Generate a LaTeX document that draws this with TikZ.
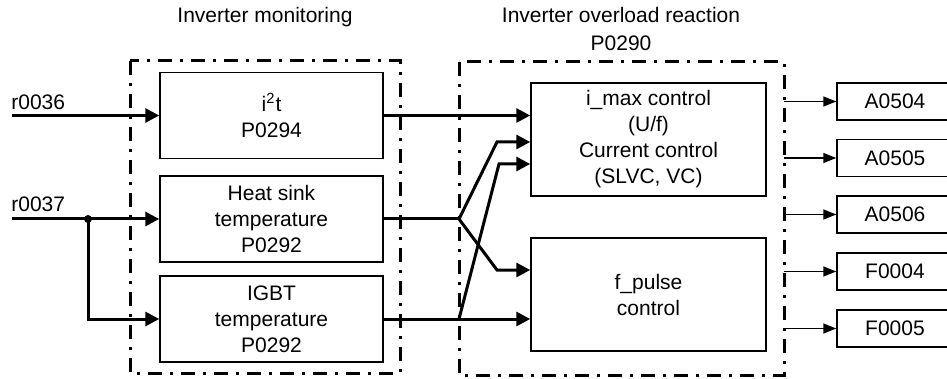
\documentclass[tikz,border=0pt]{standalone}
\usepackage{fontspec}
\setmainfont{Liberation Sans}
\usetikzlibrary{arrows.meta}

\begin{document}
\begin{tikzpicture}[x=0.5pt, y=-0.5pt,
    font={\fontsize{10.5}{13}\selectfont},
    block/.style={draw, line width=0.75pt, minimum width=111.5pt, minimum height=43pt,
      align=center, inner sep=0pt},
    ctrl/.style={block, minimum width=117.5pt, minimum height=56.5pt},
    alarm/.style={block, minimum width=58pt, minimum height=18.5pt},
    frame/.style={line width=1.5pt, dash pattern=on 7pt off 4pt on 1.5pt off 4pt},
    sig/.style={line width=1.5pt, -{Triangle[length=7pt,width=7pt]}},
    wire/.style={line width=1.5pt},
    outarr/.style={line width=0.75pt, -{Triangle[length=6.5pt,width=5pt]}}]

  \useasboundingbox (0,0) rectangle (947,379);

  %% titles
  \node (tmon) at (265,17) {Inverter monitoring};
  \node[align=center] (tovl) at (621,29) {Inverter overload reaction\\[1pt]P0290};

  %% frames
  \draw[frame] (130,61) rectangle (400,373);
  \draw[frame] (459,62) rectangle (784,375);

  %% monitoring blocks
  \node[block] (i2t)  at (271.5,115.5) {i\textsuperscript{2}t\\P0294};
  \node[block] (heat) at (271.5,219)   {Heat sink\\temperature\\P0292};
  \node[block] (igbt) at (271.5,319)   {IGBT\\temperature\\P0292};

  %% reaction blocks
  \node[ctrl] (imax)   at (648.5,139.5) {i\_max control\\(U/f)\\Current control\\(SLVC, VC)};
  \node[ctrl] (fpulse) at (648.5,294.5) {f\_pulse\\control};

  %% alarms and faults
  \node[alarm] (a0504) at (895,101.5) {A0504};
  \node[alarm] (a0505) at (895,158)   {A0505};
  \node[alarm] (a0506) at (895,214.5) {A0506};
  \node[alarm] (f0004) at (895,271.5) {F0004};
  \node[alarm] (f0005) at (895,328.5) {F0005};

  %% inputs
  \coordinate (r36) at (12,115.5);
  \coordinate (r37) at (12,219);
  \coordinate (split) at (88,219);
  \node[anchor=base west, inner sep=0pt] (l36) at (11,110) {r0036};
  \node[anchor=base west, inner sep=0pt] (l37) at (11,212) {r0037};

  \draw[sig] (r36) -- (i2t.west);
  \draw[sig] (r37) -- (heat.west);
  \draw[sig] (split) |- (igbt.west);
  \fill (split) circle (4);

  %% monitoring -> reaction
  \coordinate (hsfork) at (459,219);
  \coordinate (igfork) at (459,319);
  \coordinate (k1) at (497,142);
  \coordinate (k2) at (497,270);
  \coordinate (k3) at (499,164);

  \draw[sig] (i2t.east) -- (imax.west |- i2t.east);
  \draw[wire] (heat.east) -- (hsfork);
  \draw[sig] (hsfork) -- (k1) -- (k1 -| imax.west);
  \draw[sig] (hsfork) -- (k2) -- (k2 -| fpulse.west);
  \draw[sig] (igbt.east) -- (fpulse.west |- igbt.east);
  \draw[sig] (igfork) -- (k3) -- (k3 -| imax.west);

  %% outputs
  \coordinate (ovlR) at (784,0);
  \foreach \o in {a0504,a0505,a0506,f0004,f0005}
    \draw[outarr] (ovlR |- \o.west) -- (\o.west);
\end{tikzpicture}
\end{document}
